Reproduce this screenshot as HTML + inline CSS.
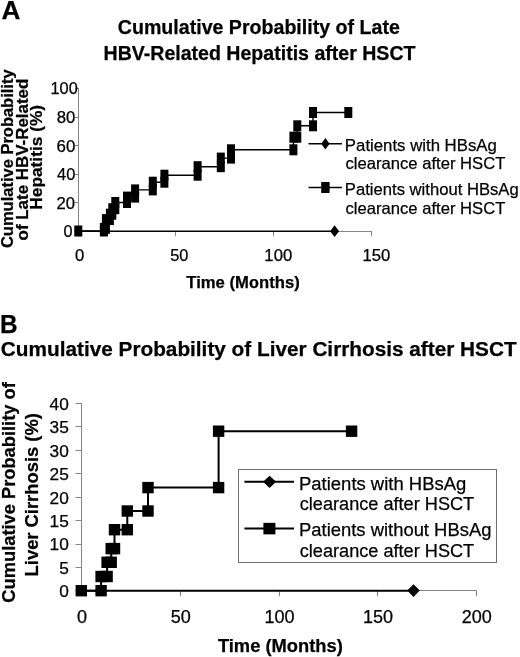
<!DOCTYPE html>
<html lang="en"><head><meta charset="utf-8"><title>Figure</title>
<style>html,body{margin:0;padding:0;background:#fff}svg{display:block}text{font-family:"Liberation Sans", sans-serif;fill:#000;stroke:#000;stroke-width:0.25px}</style>
</head><body>
<svg width="520" height="657" viewBox="0 0 520 657">
<rect x="0" y="0" width="520" height="657" fill="#fff"/>
<text x="1.48" y="19.00" font-size="26.27" font-weight="bold" textLength="18.90" lengthAdjust="spacingAndGlyphs">A</text>
<text x="117.82" y="33.60" font-size="20.18" font-weight="bold" textLength="281.99" lengthAdjust="spacingAndGlyphs">Cumulative Probability of Late</text>
<text x="103.53" y="60.20" font-size="20.15" font-weight="bold" textLength="311.99" lengthAdjust="spacingAndGlyphs">HBV-Related Hepatitis after HSCT</text>
<text x="13.40" y="248.06" transform="rotate(-90 13.40 248.06)" font-size="16.79" font-weight="bold" textLength="178.68" lengthAdjust="spacingAndGlyphs">Cumulative Probability</text>
<text x="28.20" y="240.39" transform="rotate(-90 28.20 240.39)" font-size="16.79" font-weight="bold" textLength="161.71" lengthAdjust="spacingAndGlyphs">of Late HBV-Related</text>
<text x="41.90" y="209.73" transform="rotate(-90 41.90 209.73)" font-size="16.79" font-weight="bold" textLength="104.86" lengthAdjust="spacingAndGlyphs">Hepatitis (%)</text>
<g stroke="#858585" stroke-width="1" fill="none">
<line x1="78.5" y1="88.0" x2="78.5" y2="231.2"/>
<line x1="75.0" y1="231.50" x2="78.5" y2="231.50"/>
<line x1="75.0" y1="202.50" x2="78.5" y2="202.50"/>
<line x1="75.0" y1="174.50" x2="78.5" y2="174.50"/>
<line x1="75.0" y1="145.50" x2="78.5" y2="145.50"/>
<line x1="75.0" y1="117.50" x2="78.5" y2="117.50"/>
<line x1="75.0" y1="88.50" x2="78.5" y2="88.50"/>
<line x1="78.5" y1="231.5" x2="372" y2="231.5"/>
<line x1="78.50" y1="231.5" x2="78.50" y2="236.2"/>
<line x1="175.50" y1="231.5" x2="175.50" y2="236.2"/>
<line x1="273.50" y1="231.5" x2="273.50" y2="236.2"/>
<line x1="371.50" y1="231.5" x2="371.50" y2="236.2"/>
</g>
<text x="50.47" y="94.45" font-size="15.70" textLength="27.32" lengthAdjust="spacingAndGlyphs">100</text>
<text x="56.73" y="122.99" font-size="15.70" textLength="18.57" lengthAdjust="spacingAndGlyphs">80</text>
<text x="56.56" y="151.53" font-size="15.70" textLength="18.75" lengthAdjust="spacingAndGlyphs">60</text>
<text x="57.07" y="180.07" font-size="15.70" textLength="18.22" lengthAdjust="spacingAndGlyphs">40</text>
<text x="56.57" y="208.61" font-size="15.70" textLength="18.54" lengthAdjust="spacingAndGlyphs">20</text>
<text x="63.63" y="237.15" font-size="15.70" textLength="9.06" lengthAdjust="spacingAndGlyphs">0</text>
<text x="75.02" y="261.20" font-size="15.70" textLength="9.29" lengthAdjust="spacingAndGlyphs">0</text>
<text x="170.24" y="261.20" font-size="15.70" textLength="18.25" lengthAdjust="spacingAndGlyphs">50</text>
<text x="264.35" y="261.20" font-size="15.70" textLength="27.86" lengthAdjust="spacingAndGlyphs">100</text>
<text x="362.55" y="261.20" font-size="15.70" textLength="27.86" lengthAdjust="spacingAndGlyphs">150</text>
<text x="186.33" y="288.20" font-size="17.14" font-weight="bold" textLength="113.37" lengthAdjust="spacingAndGlyphs">Time (Months)</text>
<g stroke="#000" stroke-width="1.4" fill="none">
<line x1="78.3" y1="231.2" x2="334.8" y2="231.2"/>
<polyline points="78.3,231 103.9,231 103.9,228.4 105.9,228.4 105.9,219.6 109.9,219.6 109.9,214.2 112.3,214.2 112.3,208.7 115.3,208.7 115.3,202.5 127,202.5 127,197.1 135.1,197.1 135.1,189.9 152.8,189.9 152.8,182.2 164.4,182.2 164.4,175.2 197.6,175.2 197.6,166.7 220.8,166.7 220.8,158.1 231,158.1 231,149.8 293.4,149.8 293.4,137.2 297.3,137.2 297.3,125.8 313,125.8 313,112.5 348.3,112.5"/>
<line x1="308.5" y1="143.7" x2="341.9" y2="143.7"/>
<line x1="308.5" y1="187.5" x2="341.9" y2="187.5"/>
</g>
<g fill="#000">
<rect x="74.30" y="225.50" width="8" height="11"/>
<rect x="99.90" y="225.50" width="8" height="11"/>
<rect x="99.90" y="222.90" width="8" height="11"/>
<rect x="101.90" y="222.90" width="8" height="11"/>
<rect x="101.90" y="214.10" width="8" height="11"/>
<rect x="105.90" y="214.10" width="8" height="11"/>
<rect x="105.90" y="208.70" width="8" height="11"/>
<rect x="108.30" y="208.70" width="8" height="11"/>
<rect x="108.30" y="203.20" width="8" height="11"/>
<rect x="111.30" y="203.20" width="8" height="11"/>
<rect x="111.30" y="197.00" width="8" height="11"/>
<rect x="123.00" y="197.00" width="8" height="11"/>
<rect x="123.00" y="191.60" width="8" height="11"/>
<rect x="131.10" y="191.60" width="8" height="11"/>
<rect x="131.10" y="184.40" width="8" height="11"/>
<rect x="148.80" y="184.40" width="8" height="11"/>
<rect x="148.80" y="176.70" width="8" height="11"/>
<rect x="160.40" y="176.70" width="8" height="11"/>
<rect x="160.40" y="169.70" width="8" height="11"/>
<rect x="193.60" y="169.70" width="8" height="11"/>
<rect x="193.60" y="161.20" width="8" height="11"/>
<rect x="216.80" y="161.20" width="8" height="11"/>
<rect x="216.80" y="152.60" width="8" height="11"/>
<rect x="227.00" y="152.60" width="8" height="11"/>
<rect x="227.00" y="144.30" width="8" height="11"/>
<rect x="289.40" y="144.30" width="8" height="11"/>
<rect x="289.40" y="131.70" width="8" height="11"/>
<rect x="293.30" y="131.70" width="8" height="11"/>
<rect x="293.30" y="120.30" width="8" height="11"/>
<rect x="309.00" y="120.30" width="8" height="11"/>
<rect x="309.00" y="107.00" width="8" height="11"/>
<rect x="344.30" y="107.00" width="8" height="11"/>
<polygon points="74.30,231 78.3,225.50 82.30,231 78.3,236.50"/>
<polygon points="330.10,231.2 334.6,225.30 339.10,231.2 334.6,237.10"/>
<polygon points="321.20,143.7 325.4,138.00 329.60,143.7 325.4,149.40"/>
<rect x="321.20" y="182.00" width="8.4" height="11"/>
</g>
<text x="344.86" y="150.50" font-size="17.28" textLength="151.97" lengthAdjust="spacingAndGlyphs">Patients with HBsAg</text>
<text x="345.54" y="168.80" font-size="17.12" textLength="159.81" lengthAdjust="spacingAndGlyphs">clearance after HSCT</text>
<text x="344.87" y="194.80" font-size="17.14" textLength="173.85" lengthAdjust="spacingAndGlyphs">Patients without HBsAg</text>
<text x="345.54" y="213.50" font-size="17.12" textLength="159.81" lengthAdjust="spacingAndGlyphs">clearance after HSCT</text>
<text x="0.11" y="332.50" font-size="25.75" font-weight="bold" textLength="17.61" lengthAdjust="spacingAndGlyphs">B</text>
<text x="0.87" y="355.80" font-size="20.76" font-weight="bold" textLength="515.75" lengthAdjust="spacingAndGlyphs">Cumulative Probability of Liver Cirrhosis after HSCT</text>
<text x="15.40" y="602.63" transform="rotate(-90 15.40 602.63)" font-size="18.83" font-weight="bold" textLength="220.39" lengthAdjust="spacingAndGlyphs">Cumulative Probability of</text>
<text x="37.70" y="576.39" transform="rotate(-90 37.70 576.39)" font-size="18.91" font-weight="bold" textLength="163.28" lengthAdjust="spacingAndGlyphs">Liver Cirrhosis (%)</text>
<g stroke="#858585" stroke-width="1" fill="none">
<line x1="81.5" y1="402.9" x2="81.5" y2="590.9"/>
<line x1="75.5" y1="590.50" x2="81.5" y2="590.50"/>
<line x1="75.5" y1="567.50" x2="81.5" y2="567.50"/>
<line x1="75.5" y1="544.50" x2="81.5" y2="544.50"/>
<line x1="75.5" y1="520.50" x2="81.5" y2="520.50"/>
<line x1="75.5" y1="497.50" x2="81.5" y2="497.50"/>
<line x1="75.5" y1="473.50" x2="81.5" y2="473.50"/>
<line x1="75.5" y1="450.50" x2="81.5" y2="450.50"/>
<line x1="75.5" y1="426.50" x2="81.5" y2="426.50"/>
<line x1="75.5" y1="403.50" x2="81.5" y2="403.50"/>
<line x1="81.5" y1="590.5" x2="477" y2="590.5"/>
<line x1="81.50" y1="590.5" x2="81.50" y2="596.3"/>
<line x1="180.50" y1="590.5" x2="180.50" y2="596.3"/>
<line x1="279.50" y1="590.5" x2="279.50" y2="596.3"/>
<line x1="377.50" y1="590.5" x2="377.50" y2="596.3"/>
<line x1="476.50" y1="590.5" x2="476.50" y2="596.3"/>
</g>
<text x="68.8" y="597.30" font-size="17.3" text-anchor="end">0</text>
<text x="68.8" y="573.86" font-size="17.3" text-anchor="end">5</text>
<text x="68.8" y="550.42" font-size="17.3" text-anchor="end">10</text>
<text x="68.8" y="526.99" font-size="17.3" text-anchor="end">15</text>
<text x="68.8" y="503.55" font-size="17.3" text-anchor="end">20</text>
<text x="68.8" y="480.11" font-size="17.3" text-anchor="end">25</text>
<text x="68.8" y="456.67" font-size="17.3" text-anchor="end">30</text>
<text x="68.8" y="433.24" font-size="17.3" text-anchor="end">35</text>
<text x="68.8" y="409.80" font-size="17.3" text-anchor="end">40</text>
<text x="82.00" y="622.6" font-size="18" text-anchor="middle">0</text>
<text x="180.70" y="622.6" font-size="18" text-anchor="middle">50</text>
<text x="279.40" y="622.6" font-size="18" text-anchor="middle">100</text>
<text x="378.10" y="622.6" font-size="18" text-anchor="middle">150</text>
<text x="476.80" y="622.6" font-size="18" text-anchor="middle">200</text>
<text x="217.92" y="651.70" font-size="18.87" font-weight="bold" textLength="124.86" lengthAdjust="spacingAndGlyphs">Time (Months)</text>
<g stroke="#000" stroke-width="2" fill="none">
<line x1="81.3" y1="590.7" x2="413.5" y2="590.7"/>
<polyline points="81.3,590.7 101.1,590.7 101.1,576.5 107.1,576.5 107.1,562.3 111.2,562.3 111.2,548.6 114.5,548.6 114.5,529.7 127.3,529.7 127.3,511 148,511 148,487.6 218.6,487.6 218.6,431.2 351.6,431.2"/>
<line x1="244.4" y1="481.8" x2="294" y2="481.8"/>
<line x1="244.4" y1="528.6" x2="294" y2="528.6"/>
</g>
<rect x="238.5" y="469.5" width="258" height="93" fill="none" stroke="#707070" stroke-width="1"/>
<g fill="#000">
<rect x="75.60" y="585.00" width="11.4" height="11.4"/>
<rect x="95.40" y="585.00" width="11.4" height="11.4"/>
<rect x="95.40" y="570.80" width="11.4" height="11.4"/>
<rect x="101.40" y="570.80" width="11.4" height="11.4"/>
<rect x="101.40" y="556.60" width="11.4" height="11.4"/>
<rect x="105.50" y="556.60" width="11.4" height="11.4"/>
<rect x="105.50" y="542.90" width="11.4" height="11.4"/>
<rect x="108.80" y="542.90" width="11.4" height="11.4"/>
<rect x="108.80" y="524.00" width="11.4" height="11.4"/>
<rect x="121.60" y="524.00" width="11.4" height="11.4"/>
<rect x="121.60" y="505.30" width="11.4" height="11.4"/>
<rect x="142.30" y="505.30" width="11.4" height="11.4"/>
<rect x="142.30" y="481.90" width="11.4" height="11.4"/>
<rect x="212.90" y="481.90" width="11.4" height="11.4"/>
<rect x="212.90" y="425.50" width="11.4" height="11.4"/>
<rect x="345.90" y="425.50" width="11.4" height="11.4"/>
<polygon points="407.20,590.6 413.5,584.30 419.80,590.6 413.5,596.90"/>
<polygon points="263.10,481.8 269.6,475.70 276.10,481.8 269.6,487.90"/>
<rect x="263.40" y="522.85" width="12" height="11.5"/>
</g>
<text x="299.02" y="490.40" font-size="19.02" textLength="167.31" lengthAdjust="spacingAndGlyphs">Patients with HBsAg</text>
<text x="299.77" y="510.40" font-size="18.68" textLength="174.40" lengthAdjust="spacingAndGlyphs">clearance after HSCT</text>
<text x="299.03" y="536.40" font-size="18.96" textLength="192.40" lengthAdjust="spacingAndGlyphs">Patients without HBsAg</text>
<text x="299.77" y="556.60" font-size="18.68" textLength="174.40" lengthAdjust="spacingAndGlyphs">clearance after HSCT</text>
</svg>
</body></html>
